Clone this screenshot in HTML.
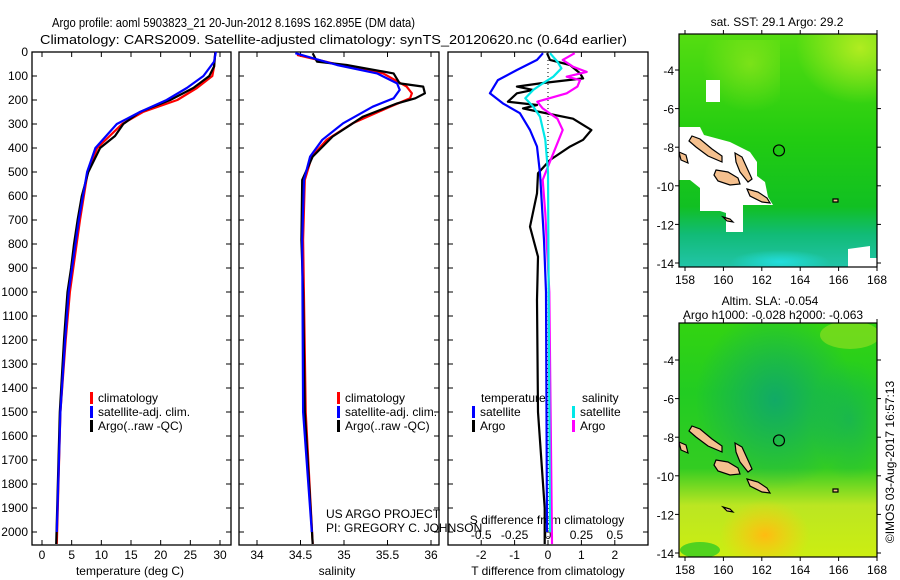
<!DOCTYPE html>
<html><head><meta charset="utf-8"><style>
body{margin:0;background:#fff}
svg{display:block;font-family:"Liberation Sans",sans-serif;font-size:12px}
</style></head><body>
<svg id="fig" width="900" height="580" viewBox="0 0 900 580">
<defs>
<linearGradient id="g1" x1="0" y1="0" x2="0" y2="1">
<stop offset="0" stop-color="#55dd11"/><stop offset="0.45" stop-color="#22cc11"/><stop offset="0.74" stop-color="#11c022"/><stop offset="0.86" stop-color="#11bb77"/><stop offset="1" stop-color="#22c4a8"/></linearGradient>
<radialGradient id="y1" cx="0.75" cy="0.2" r="0.4"><stop offset="0" stop-color="#bbee22" stop-opacity="0.9"/><stop offset="1" stop-color="#bbee22" stop-opacity="0"/></radialGradient>
<radialGradient id="c1" cx="0.5" cy="0.5" r="0.5"><stop offset="0" stop-color="#22dddd"/><stop offset="1" stop-color="#22dddd" stop-opacity="0"/></radialGradient>
<linearGradient id="g2" x1="0" y1="0" x2="0" y2="1">
<stop offset="0" stop-color="#33d411"/><stop offset="0.3" stop-color="#22cc22"/><stop offset="0.62" stop-color="#33cc22"/><stop offset="0.78" stop-color="#bbe622"/><stop offset="1" stop-color="#ccee11"/></linearGradient>
<radialGradient id="t2" cx="0.5" cy="0.5" r="0.5"><stop offset="0" stop-color="#11aa66"/><stop offset="1" stop-color="#11aa66" stop-opacity="0"/></radialGradient>
<radialGradient id="o2" cx="0.5" cy="0.5" r="0.5"><stop offset="0" stop-color="#ffbb11"/><stop offset="1" stop-color="#ffcc11" stop-opacity="0"/></radialGradient>
<clipPath id="cm1"><rect x="679" y="34" width="198" height="233"/></clipPath>
<clipPath id="cm2"><rect x="679" y="323" width="198" height="234"/></clipPath>
</defs>
<text x="52" y="27" font-size="13" textLength="363" lengthAdjust="spacingAndGlyphs">Argo profile: aoml 5903823_21 20-Jun-2012 8.169S 162.895E (DM data)</text>
<text x="40" y="44" font-size="13" textLength="587" lengthAdjust="spacingAndGlyphs">Climatology: CARS2009. Satellite-adjusted climatology: synTS_20120620.nc (0.64d earlier)</text>

<g id="axes"></g>

<g clip-path="url(#cm1)">
<rect x="679" y="34" width="198" height="233" fill="url(#g1)"/>
<rect x="740" y="20" width="160" height="140" fill="url(#y1)"/>
<rect x="660" y="40" width="120" height="120" fill="url(#y1)" opacity="0.5"/>
<ellipse cx="780" cy="262" rx="50" ry="12" fill="url(#c1)"/>
<polygon fill="#fff" points="679,127 700,127 704,135 730,142 738,146 750,152 757,162 757,176 765,182 768,197 773,205 743,205 743,232 726,232 726,213 720,211 700,211 700,188 690,180 679,180"/>
<rect x="706" y="80" width="14" height="22" fill="#fff"/>
<polygon fill="#fff" points="848,249 870,246 870,258 877,258 877,267 848,267"/>
</g>
<g clip-path="url(#cm2)">
<rect x="679" y="323" width="198" height="234" fill="url(#g2)"/>
<ellipse cx="775" cy="400" rx="80" ry="90" fill="url(#t2)"/>
<ellipse cx="850" cy="420" rx="40" ry="60" fill="url(#t2)" opacity="0.6"/>
<ellipse cx="765" cy="535" rx="45" ry="35" fill="url(#o2)"/>
<ellipse cx="700" cy="550" rx="20" ry="8" fill="#33cc22" opacity="0.8"/>
<ellipse cx="850" cy="335" rx="30" ry="14" fill="#99e022" opacity="0.6"/>
</g>
<g id="maps-over"></g>

<text x="777" y="26" text-anchor="middle">sat. SST: 29.1 Argo: 29.2</text>
<text x="770" y="305" text-anchor="middle">Altim. SLA: -0.054</text>
<text x="773" y="319" text-anchor="middle">Argo h1000: -0.028 h2000: -0.063</text>
<text transform="translate(894,462) rotate(-90)" text-anchor="middle">©IMOS 03-Aug-2017 16:57:13</text>

<text x="326" y="518">US ARGO PROJECT</text>
<text x="326" y="532">PI: GREGORY C. JOHNSON</text>
</svg>
<script>
// ---- data ----
const depthTicks = [0,100,200,300,400,500,600,700,800,900,1000,1100,1200,1300,1400,1500,1600,1700,1800,1900,2000];
const tempTicks = [0,5,10,15,20,25,30];
const salTicks = [34,34.5,35,35.5,36];
const salTickLabels = ["34","34.5","35","35.5","36"];
const tdTicks = [-2,-1,0,1,2];
const sdTicks = [-0.5,-0.25,0,0.25,0.5];
const sdTickLabels = ["-0.5","-0.25","0","0.25","0.5"];
const lonTicks = [158,160,162,164,166,168];
const latTicks = [-4,-6,-8,-10,-12,-14];

const tDepthArgo = [0,60,100,150,200,250,300,350,400,450,500,600,700,800,900,1000,1100,1200,1500,2050];
const tArgo      = [29.2,29.0,28.2,25.5,21.6,16.5,13.7,12.3,9.8,8.8,7.8,6.7,6.0,5.4,4.9,4.3,4.0,3.7,3.0,2.4];
const tDepthClim = [0,60,100,150,200,250,300,400,500,700,1000,1200,1500,2050];
const tClim      = [29.2,29.0,28.7,26.1,22.8,17.0,13.5,9.3,7.7,6.4,4.7,4.0,3.1,2.5];
const tDepthSat  = [0,40,100,150,200,250,300,400,500,700,1000,1200,1500,2000];
const tSat       = [29.3,29.0,27.2,24.4,21.0,16.5,12.6,9.0,7.6,6.2,4.5,3.9,3.1,2.5];

const sDepthArgo = [5,40,54,89,131,144,172,193,214,269,352,436,533,783,1000,1500,2050];
const sArgo      = [34.64,34.69,35.03,35.57,35.64,35.91,35.93,35.82,35.61,35.22,34.87,34.64,34.52,34.51,34.53,34.55,34.64];
const sDepthClim = [12,54,89,144,172,193,228,297,366,436,533,783,1500,2050];
const sClim      = [34.46,34.95,35.45,35.72,35.78,35.76,35.53,35.10,34.80,34.63,34.55,34.53,34.56,34.64];
const sDepthSat  = [5,54,89,131,158,193,228,297,366,436,533,783,1500,2000];
const sSat       = [34.44,34.92,35.38,35.61,35.64,35.57,35.33,34.99,34.75,34.61,34.54,34.52,34.53,34.63];

const tdDepthSat = [5,33,75,117,172,214,255,325,394,505,783,1000,2000];
const tdSat      = [-0.15,-0.33,-0.93,-1.5,-1.74,-1.35,-0.84,-0.54,-0.33,-0.24,-0.12,-0.06,-0.03];
const tdDepthArgo= [5,33,54,89,110,131,144,158,172,207,221,235,250,278,325,366,394,450,505,589,728,853,1033,1500,1900,2050];
const tdArgo     = [-0.03,0.06,0.66,0.96,1.05,-0.24,-0.93,-0.45,-0.93,-1.2,-0.33,-0.75,-0.24,0.75,1.3,1.05,0.66,0.06,-0.3,-0.33,-0.54,-0.3,-0.33,-0.3,-0.1,-0.1];
const sdDepthSat = [5,40,68,103,131,158,193,228,269,366,500,2000];
const sdSat      = [0.015,0.07,0.1,0.04,-0.04,-0.11,-0.17,-0.11,-0.06,-0.02,0,0.015];
const sdDepthArgo= [5,33,62,83,103,117,144,172,207,235,278,325,380,477,533,672,1000,2050];
const sdArgo     = [0.2,0.11,0.19,0.29,0.14,0.24,0.22,0.14,-0.08,-0.04,0.07,0.11,0.07,0,-0.04,-0.02,0.01,0.03];

// ---- scales ----
const yD = d => 52 + d*0.24;
const xT = t => 42 + t*(178/30);
const xS = s => 257 + (s-34)*87;
const xTD = t => 548 + t*33.4;
const xSD = s => 548 + s*133.6;
const xLon = l => 685 + (l-158)*19.2;
const yLat1 = l => 70 + (-4-l)*19.3;

const NS="http://www.w3.org/2000/svg";
const axes=document.getElementById('axes');
function mk(tag,attrs,parent){const e=document.createElementNS(NS,tag);for(const k in attrs)e.setAttribute(k,attrs[k]);(parent||axes).appendChild(e);return e;}

const panels=[{x0:32,x1:231,name:'temperature-panel'},{x0:239,x1:439,name:'salinity-panel'},{x0:448,x1:648,name:'difference-panel'}];
panels.forEach(p=>{
  const r=mk('rect',{x:p.x0,y:52,width:p.x1-p.x0,height:493,fill:'none',stroke:'#000','stroke-width':1.3});
  
  
  depthTicks.forEach(d=>{
    mk('line',{x1:p.x0,x2:p.x0+5,y1:yD(d),y2:yD(d),stroke:'#000'});
    mk('line',{x1:p.x1-5,x2:p.x1,y1:yD(d),y2:yD(d),stroke:'#000'});
  });
});
depthTicks.forEach(d=>{
  const t=mk('text',{x:28,y:yD(d)+4,'text-anchor':'end'});t.textContent=d;
  
  
});
function xticks(vals,labels,f,y,ly,nm){
  vals.forEach((v,i)=>{
    mk('line',{x1:f(v),x2:f(v),y1:52,y2:57,stroke:'#000'});
    mk('line',{x1:f(v),x2:f(v),y1:540,y2:545,stroke:'#000'});
    const t=mk('text',{x:f(v),y:ly,'text-anchor':'middle'});t.textContent=labels[i];
    
    
  });
}
xticks(tempTicks,tempTicks.map(String),xT,0,559,'temperature-tick-label');
xticks(salTicks,salTickLabels,xS,0,559,'salinity-tick-label');
xticks(tdTicks,tdTicks.map(String),xTD,0,559,'t-diff-tick-label');
sdTicks.forEach((v,i)=>{const t=mk('text',{x:xSD(v),y:539,'text-anchor':'middle'});t.textContent=sdTickLabels[i];
  
  });
[[130,575,'temperature (deg C)','x-axis-title-temperature'],[337,575,'salinity','x-axis-title-salinity'],[548,575,'T difference from climatology','x-axis-title-t-diff'],[547,524,'S difference from climatology','x-axis-title-s-diff']].forEach(a=>{
  const t=mk('text',{x:a[0],y:a[1],'text-anchor':'middle'});t.textContent=a[2];
  
  
});
// zero dotted line
mk('line',{x1:548,x2:548,y1:52,y2:545,stroke:'#000','stroke-dasharray':'1,3'});

function line(depths,vals,fx,color,nm){
  const pts=depths.map((d,i)=>fx(vals[i]).toFixed(1)+','+yD(d).toFixed(1)).join(' ');
  const e=mk('polyline',{points:pts,fill:'none',stroke:color,'stroke-width':2.2,'stroke-linejoin':'round'});
  
  
}
line(tDepthClim,tClim,xT,'#ff0000','temp-climatology-line');
line(tDepthArgo,tArgo,xT,'#000','temp-argo-line');
line(tDepthSat,tSat,xT,'#0000ff','temp-satellite-line');
line(sDepthClim,sClim,xS,'#ff0000','sal-climatology-line');
line(sDepthArgo,sArgo,xS,'#000','sal-argo-line');
line(sDepthSat,sSat,xS,'#0000ff','sal-satellite-line');
line(tdDepthArgo,tdArgo,xTD,'#000','t-diff-argo-line');
line(sdDepthArgo,sdArgo,xSD,'#ff00ff','s-diff-argo-line');
line(tdDepthSat,tdSat,xTD,'#0000ff','t-diff-satellite-line');
line(sdDepthSat,sdSat,xSD,'#00e8e8','s-diff-satellite-line');

function legend(x,y,color,label){
  const m=mk('rect',{x:x,y:y-10,width:3,height:12,fill:color});
  
  
  if(label){const t=mk('text',{x:x+8,y:y});t.textContent=label;
  
  }
}
[[0,'#ff0000','climatology'],[1,'#0000ff','satellite-adj. clim.'],[2,'#000','Argo(..raw -QC)']].forEach(a=>{
  legend(90,402+a[0]*14,a[1],a[2]); legend(337,402+a[0]*14,a[1],a[2]);
});
{const t=mk('text',{x:481,y:402});t.textContent='temperature';
 const u=mk('text',{x:582,y:402});u.textContent='salinity';}
legend(472,416,'#0000ff','satellite'); legend(472,430,'#000','Argo');
legend(572,416,'#00e8e8','satellite'); legend(572,430,'#ff00ff','Argo');

// ---- maps ----
const over=document.getElementById('maps-over');
const islands=[
 [[692,136],[700,139],[712,149],[722,156],[722,162],[708,156],[696,147],[689,141]],
 [[735,153],[742,157],[747,168],[752,179],[748,182],[740,172],[736,162]],
 [[716,170],[728,172],[738,178],[740,184],[730,185],[718,181],[714,175]],
 [[747,189],[758,192],[767,198],[770,203],[762,202],[750,196]],
 [[679,152],[686,155],[688,163],[681,160]],
 [[723,217],[730,219],[733,222],[727,221]],
 [[833,199],[838,199],[838,202],[833,202]]
];
[0,290].forEach((off,mi)=>{
  const clip = mi===0?'url(#cm1)':'url(#cm2)';
  const g=mk('g',{'clip-path':clip},over);
  islands.forEach(p=>{
    const e=mk('polygon',{points:p.map(q=>q[0]+','+(q[1]+off)).join(' '),fill:'#f5c08e',stroke:'#000','stroke-width':1.2},g);
    
    
  });
  const c=mk('circle',{cx:xLon(162.895),cy:yLat1(-8.169)+off,r:5.5,fill:'none',stroke:'#000','stroke-width':1.2},over);
  
  
  const y0=34+off-(mi?1:0), y1=267+off;
  const fr=mk('rect',{x:679,y:y0,width:198,height:y1-y0,fill:'none',stroke:'#000','stroke-width':1.2},over);
  
  
  lonTicks.forEach(l=>{
    mk('line',{x1:xLon(l),x2:xLon(l),y1:y1,y2:y1+4,stroke:'#000'},over);
    mk('line',{x1:xLon(l),x2:xLon(l),y1:y0-4,y2:y0,stroke:'#000'},over);
    const t=mk('text',{x:xLon(l),y:y1+17,'text-anchor':'middle'},over);t.textContent=l;
    
    
  });
  latTicks.forEach(l=>{
    const y=yLat1(l)+off;
    mk('line',{x1:675,x2:679,y1:y,y2:y,stroke:'#000'},over);
    mk('line',{x1:877,x2:881,y1:y,y2:y,stroke:'#000'},over);
    const t=mk('text',{x:674,y:y+5,'text-anchor':'end'},over);t.textContent=l;
    
    
  });
});
</script>
</body></html>
